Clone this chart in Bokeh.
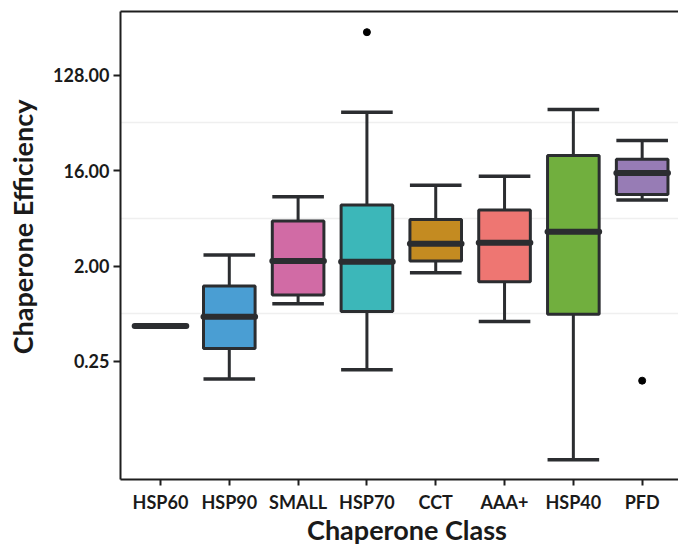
import math
from bokeh.plotting import figure
from bokeh.layouts import row, column
from bokeh.models import Range1d, FixedTicker, LinearAxis, ColumnDataSource, CustomJSTickFormatter, Label
from bokeh.embed import file_html
from bokeh.resources import INLINE

# ---- data ----
categories = ["HSP60", "HSP90", "SMALL", "HSP70", "CCT", "AAA+", "HSP40", "PFD"]
lower_whisker = [0.54, 0.170, 0.88, 0.208, 1.73, 0.595, 0.0292, 8.42]
q1 = [0.54, 0.33, 1.06, 0.74, 2.23, 1.42, 0.70, 9.53]
median = [0.54, 0.663, 2.23, 2.20, 3.25, 3.32, 4.22, 15.24]
q3 = [0.54, 1.29, 5.33, 7.55, 5.53, 6.77, 22.3, 20.5]
upper_whisker = [0.54, 2.54, 9.04, 57.2, 11.66, 14.19, 60.6, 30.9]
box_colors = ["#E8863A", "#4A9ED3", "#D16BA5", "#3CB7B9", "#C48B21", "#EE7672", "#71AF3E", "#977CB5"]
outlier_class = ["HSP70", "PFD"]
outlier_value = [328.0, 0.164]
y_ticks = [0.25, 2, 16, 128]
x_title = "Chaperone Class"
y_title = "Chaperone Efficiency"

DARK = "#2b2d30"
AXIS = "#1e1e1e"
TEXT = "#1a1a1a"
FONT = "Lato"
BOX_W = 0.75

xs = [i + 1 for i in range(len(categories))]
src = ColumnDataSource(dict(
    x=xs,
    x0=[x - BOX_W / 2 for x in xs],
    x1=[x + BOX_W / 2 for x in xs],
    lo=lower_whisker, q1=q1, med=median, q3=q3, hi=upper_whisker,
    color=box_colors,
))
out_src = ColumnDataSource(dict(
    x=[categories.index(c) + 1 for c in outlier_class],
    y=outlier_value,
))

MAIN_H = 516
p = figure(width=638, height=MAIN_H, y_axis_type="log",
           x_range=Range1d(0.419, 8.528), y_range=Range1d(0.0190, 515),
           output_backend="svg", toolbar_location=None,
           min_border_left=80, min_border_right=0, min_border_top=11, min_border_bottom=37)
p.outline_line_color = None
p.background_fill_color = "white"
p.border_fill_color = "white"

# grid
p.xgrid.visible = False
p.ygrid.ticker = FixedTicker(ticks=[2 ** -0.5, 2 ** 2.5, 2 ** 5.5])
p.ygrid.grid_line_color = "#efefef"
p.ygrid.grid_line_width = 1.5

# whiskers
p.segment(x0="x", y0="lo", x1="x", y1="q1", source=src, line_color=DARK, line_width=3)
p.segment(x0="x", y0="q3", x1="x", y1="hi", source=src, line_color=DARK, line_width=3)
# caps
p.segment(x0="x0", y0="lo", x1="x1", y1="lo", source=src, line_color=DARK, line_width=3.5)
p.segment(x0="x0", y0="hi", x1="x1", y1="hi", source=src, line_color=DARK, line_width=3.5)
# boxes
p.vbar(x="x", width=BOX_W, bottom="q1", top="q3", source=src,
       fill_color="color", line_color=DARK, line_width=3)
# medians
p.segment(x0="x0", y0="med", x1="x1", y1="med", source=src, line_color=DARK,
          line_width=6, line_cap="round")
# outliers
p.scatter(x="x", y="y", source=out_src, size=7, color="black")

# axes
for ax in (p.xaxis[0], p.yaxis[0]):
    ax.axis_line_width = 2
    ax.axis_line_color = AXIS
    ax.major_tick_line_width = 2
    ax.major_tick_line_color = AXIS
    ax.major_tick_in = 0
    ax.minor_tick_line_color = None
    ax.major_label_text_font = FONT
    ax.major_label_text_font_style = "bold"
    ax.major_label_text_font_size = "18px"
    ax.major_label_text_color = TEXT

p.xaxis.ticker = FixedTicker(ticks=xs)
p.xaxis.formatter = CustomJSTickFormatter(args=dict(labels=categories),
                                          code="return labels[Math.round(tick) - 1];")
p.xaxis.major_tick_out = 6
p.xaxis.major_label_standoff = 5

p.yaxis.ticker = FixedTicker(ticks=y_ticks)
p.yaxis.formatter = CustomJSTickFormatter(code="return tick.toFixed(2);")
p.yaxis.major_tick_out = 7
p.yaxis.major_label_standoff = 4

top_axis = LinearAxis(ticker=FixedTicker(ticks=[]), axis_line_width=2, axis_line_color=AXIS,
                      major_tick_out=0, major_tick_in=0, minor_tick_out=0, minor_tick_in=0,
                      major_label_standoff=0)
p.add_layout(top_axis, "above")


def text_panel(w, h):
    f = figure(width=w, height=h, x_range=Range1d(0, w), y_range=Range1d(0, h),
               output_backend="svg", toolbar_location=None, min_border=0,
               x_axis_location=None, y_axis_location=None)
    f.grid.visible = False
    f.outline_line_color = None
    f.background_fill_color = "white"
    f.border_fill_color = "white"
    return f


# y-axis title panel (left); text is anchored at its middle
fy = text_panel(40, MAIN_H)
fy.add_layout(Label(x=21.5, y=MAIN_H - 237.5, angle=math.pi / 2, text=y_title,
                    text_align="center", text_baseline="middle",
                    text_font=FONT, text_font_style="bold", text_font_size="27px",
                    text_color=TEXT))

# x-axis title panel (bottom)
BOT_H = 31
fx = text_panel(678, BOT_H)
fx.add_layout(Label(x=406.5, y=BOT_H - (529 - MAIN_H), text=x_title,
                    text_align="center", text_baseline="middle",
                    text_font=FONT, text_font_style="bold", text_font_size="27px",
                    text_color=TEXT))

layout = column(row(fy, p, spacing=0), fx, spacing=0)
open("out.html", "w").write(file_html(layout, INLINE))
